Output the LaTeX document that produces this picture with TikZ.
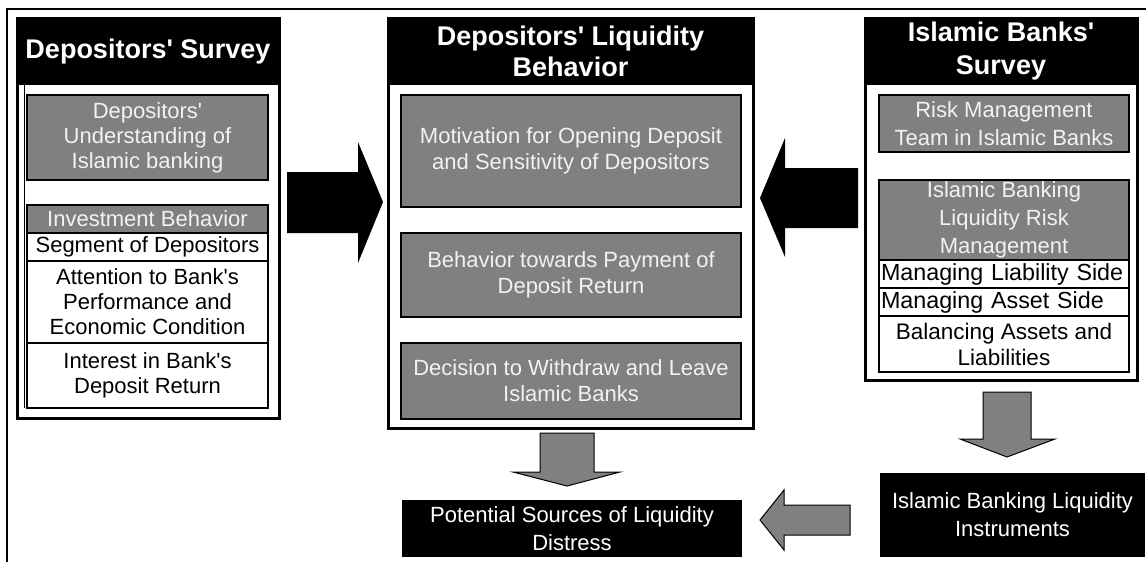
\documentclass[tikz,border=0pt]{standalone}
\usepackage{fontspec}
\setmainfont{Liberation Sans}
\usetikzlibrary{calc}
\definecolor{boxgray}{RGB}{128,128,128}
\definecolor{txtlight}{RGB}{242,242,242}
\newcommand{\sq}{\textquotesingle}
\tikzset{
  every node/.style={inner sep=0pt, outer sep=0pt, align=center},
  panel/.style={draw=black, line width=3pt, fill=white, anchor=north west},
  hdr/.style={fill=black, text=white, anchor=north west, font=\fontsize{27}{31}\selectfont\bfseries},
  gbox/.style={draw=black, line width=2.2pt, fill=boxgray, text=txtlight, anchor=north west, font=\fontsize{22}{25}\selectfont},
  wbox/.style={draw=black, line width=2pt, fill=white, text=black, anchor=north west, font=\fontsize{22}{25}\selectfont},
  wleft/.style={wbox, text width=246pt, align=left, inner xsep=2pt, font=\fontsize{23.3}{25}\selectfont},
  bbox/.style={fill=black, text=white, anchor=north west, font=\fontsize{22}{28}\selectfont},
  blkarrow/.style={fill=black},
  grayarrow/.style={fill=boxgray, draw=black, line width=1pt, line join=miter},
  frame/.style={line width=2.5pt}
}
\begin{document}
\begin{tikzpicture}[x=1pt,y=-1pt]
\useasboundingbox (0,0) rectangle (1146,562);
% outer partial frame
\draw[frame] (7,562) -- (7,9) -- (1146,9);

% ---------- left panel ----------
\node[panel, minimum width=262pt, minimum height=400pt] (lp) at (17,18) {};
\node[hdr, minimum width=262pt, minimum height=67pt] (lh) at (17,18) {Depositors\sq\ Survey};
\draw[line width=1.5pt] (lh.south west) ++(7.5,0) -- ++(0,323);
\node[gbox, minimum width=241pt, minimum height=85pt] (l1) at (27,95) {Depositors\sq\\Understanding of\\Islamic banking};
\node[gbox, minimum width=241pt, minimum height=28pt] (l2) at (27,205) {Investment Behavior};
\node[wbox, minimum width=241pt, minimum height=28pt] (l3) at (27,233) {Segment of Depositors};
\node[wbox, minimum width=241pt, minimum height=82pt] (l4) at (27,261) {Attention to Bank\sq s\\Performance and\\Economic Condition};
\node[wbox, minimum width=241pt, minimum height=65pt] (l5) at (27,343) {Interest in Bank\sq s\\Deposit Return};

% ---------- middle panel ----------
\node[panel, minimum width=365pt, minimum height=410pt] (mp) at (388,18) {};
\node[hdr, minimum width=365pt, minimum height=67pt] (mh) at (388,18) {Depositors\sq\ Liquidity\\Behavior};
\node[gbox, minimum width=340pt, minimum height=112pt, font=\fontsize{22}{26}\selectfont] (m1) at (401,95) {Motivation for Opening Deposit\\and Sensitivity of Depositors};
\node[gbox, minimum width=340pt, minimum height=84pt, font=\fontsize{22}{26}\selectfont] (m2) at (401,233) {Behavior towards Payment of\\Deposit Return};
\node[gbox, minimum width=340pt, minimum height=76pt, font=\fontsize{22}{26}\selectfont] (m3) at (401,343) {Decision to Withdraw and Leave\\Islamic Banks};

% ---------- right panel ----------
\node[panel, minimum width=272pt, minimum height=362pt] (rp) at (865,18) {};
\node[hdr, minimum width=272pt, minimum height=67pt, font=\fontsize{27}{33}\selectfont\bfseries] (rh) at (865,18) {Islamic Banks\sq\\Survey};
\node[gbox, minimum width=250pt, minimum height=57pt, font=\fontsize{22}{28}\selectfont] (r1) at (879,95) {Risk Management\\Team in Islamic Banks};
\node[gbox, minimum width=250pt, minimum height=80pt, font=\fontsize{22}{28}\selectfont] (r2) at (879,180) {Islamic Banking\\Liquidity Risk\\Management};
\node[wleft, minimum height=28pt] (r3) at (879,260) {Managing Liability Side};
\node[wleft, minimum height=28pt] (r4) at (879,288) {Managing Asset Side};
\node[wbox, minimum width=250pt, minimum height=56pt, font=\fontsize{22.5}{26}\selectfont] (r5) at (879,316) {Balancing Assets and\\Liabilities};

% ---------- bottom boxes ----------
\node[bbox, minimum width=340pt, minimum height=57pt] (ps) at (402,500) {Potential Sources of Liquidity\\Distress};
\node[bbox, minimum width=265pt, minimum height=84pt] (ib) at (880,473) {Islamic Banking Liquidity\\Instruments};

% ---------- block arrows ----------
% left panel -> middle panel
\fill[blkarrow] (287,172) -- (358,172) -- (358,142) -- (383,202) -- (358,263) -- (358,233) -- (287,233) -- cycle;
% right panel -> middle panel
\fill[blkarrow] (858,168) -- (785,168) -- (785,138) -- (760,198) -- (785,257) -- (785,228) -- (858,228) -- cycle;
% middle panel -> potential sources
\draw[grayarrow] (540,433) -- (594,433) -- (594,472) -- (620,472) -- (567,486) -- (513,472) -- (540,472) -- cycle;
% right panel -> instruments
\draw[grayarrow] (983,392) -- (1031,392) -- (1031,439) -- (1055,439) -- (1007,457) -- (960,439) -- (983,439) -- cycle;
% instruments -> potential sources
\draw[grayarrow] (850,505) -- (784,505) -- (784,490) -- (760,520) -- (784,550) -- (784,535) -- (850,535) -- cycle;
\end{tikzpicture}
\end{document}
